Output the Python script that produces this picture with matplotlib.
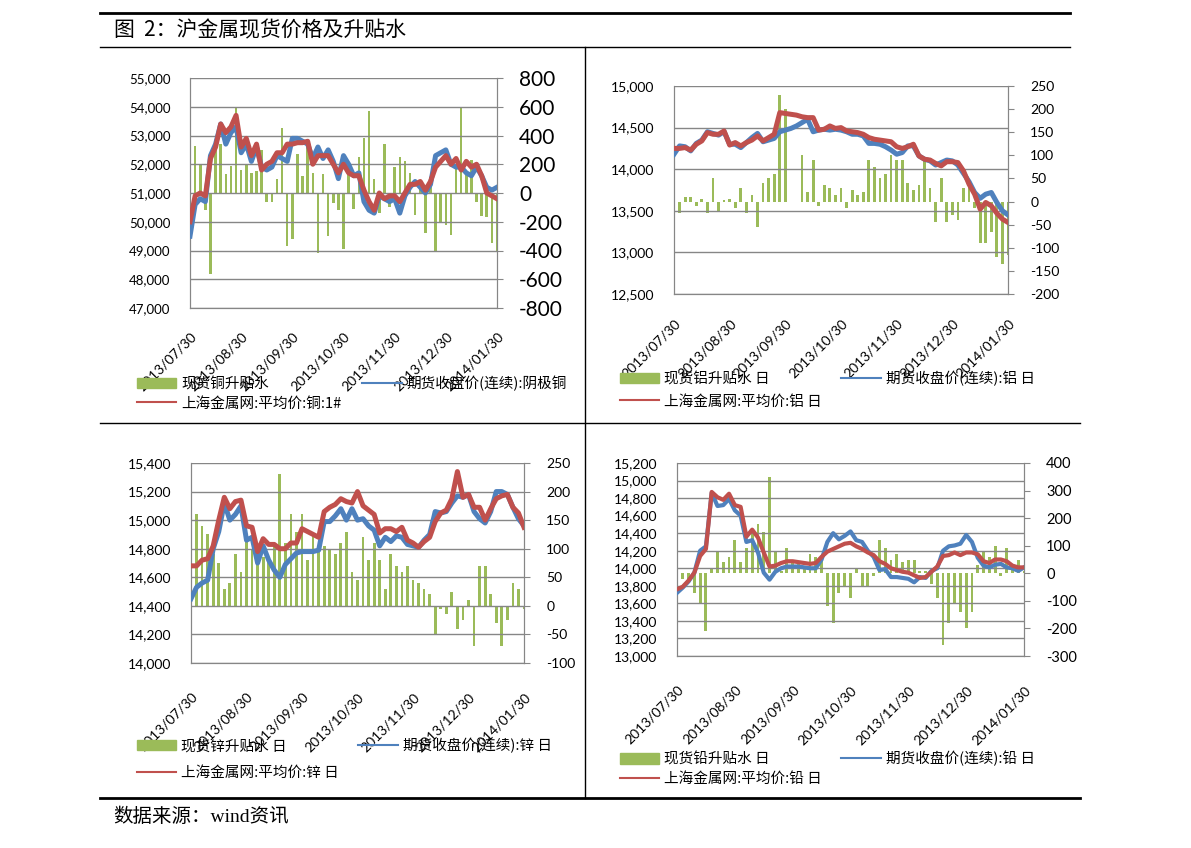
import numpy as np
import matplotlib.pyplot as plt
from matplotlib.lines import Line2D
from matplotlib.patches import Patch

plt.rcParams['font.family'] = ['Lato', 'Noto Sans CJK SC', 'DejaVu Sans']

dates = ["2013/07/30", "2013/08/30", "2013/09/30", "2013/10/30",
         "2013/11/30", "2013/12/30", "2014/01/30"]

# copper
cu_fut = [49500, 50600, 50800, 50700, 52300, 52700, 53400, 52700, 53100, 53300,
          52400, 52700, 52100, 52600, 51900, 51800, 51900, 52300, 52200, 52100,
          52900, 52900, 52800, 52700, 52200, 52600, 52200, 52500, 52100, 51500,
          52300, 52000, 51600, 51700, 50700, 50400, 50300, 50900, 50800, 50700,
          50800, 50300, 50900, 51200, 51400, 51200, 51000, 51300, 52300, 52400,
          52500, 52000, 51900, 51900, 51700, 51600, 51900, 51600, 51200, 51100, 51200]
cu_spot = [50000, 50900, 51000, 50900, 52200, 52600, 53400, 53100, 53300, 53700,
           52600, 52900, 52300, 52700, 51800, 52000, 52100, 52400, 52400, 52700,
           52700, 52750, 52750, 52800, 52000, 52300, 52300, 52300, 52000, 51700,
           52000, 51700, 51600, 51600, 51100, 50700, 50400, 51000, 50800, 50900,
           50900, 50700, 51000, 51300, 51300, 51400, 51100, 51400, 51900, 52100,
           52300, 52000, 52200, 51800, 52100, 51900, 52000, 51600, 51000, 50900, 50800]
cu_prem = [480, 330, 200, -120, -560, 330, 340, 130, 190, 590,
           160, 200, 140, 150, 300, -60, -60, 100, 450, -370,
           -320, 270, 120, 360, 140, -420, 130, -300, -70, -120,
           -390, 170, -110, 250, 380, 570, 100, -140, 340, -100,
           180, 250, 220, 140, -150, 80, -280, 110, -400, -210,
           -220, -290, 200, 600, 150, 230, -60, -160, -170, -350, -410]

# aluminium
al_fut = [14180, 14280, 14270, 14220, 14310, 14350, 14450, 14430, 14410, 14450,
          14300, 14300, 14260, 14320, 14380, 14430, 14330, 14350, 14370, 14450,
          14470, 14490, 14520, 14560, 14600, 14450, 14470, 14480, 14470, 14480,
          14470, 14450, 14420, 14420, 14400, 14310, 14310, 14300, 14270, 14230,
          14180, 14200, 14280, 14280, 14160, 14120, 14100, 14050, 14080, 14110,
          14100, 14050, 13950, 13850, 13720, 13650, 13700, 13720, 13600, 13500, 13450]
al_spot = [14250, 14250, 14260, 14230, 14300, 14340, 14440, 14420, 14420, 14460,
           14290, 14320, 14280, 14320, 14350, 14400, 14340, 14380, 14420, 14680,
           14670, 14660, 14650, 14630, 14620, 14620, 14470, 14480, 14520, 14490,
           14500, 14460, 14450, 14440, 14420, 14380, 14360, 14350, 14340, 14330,
           14270, 14250, 14270, 14300, 14160, 14120, 14110, 14070, 14040, 14090,
           14090, 14080, 13980, 13820, 13700, 13520, 13600, 13560, 13470, 13400, 13360]
al_prem = [60, -25, 10, 10, -10, 5, -25, 50, -20, 3,
           5, -15, 30, -25, 15, -55, 40, 50, 60, 230,
           200, 0, 0, 100, 20, 90, -10, 35, 30, 15,
           30, -15, 25, 15, 20, 90, 75, 50, 60, 100,
           90, 90, 40, 25, 35, 90, 30, -45, 50, -45,
           -30, -40, 30, 35, -15, -90, -90, -65, -120, -135, -115]

# zinc
zn_fut = [14450, 14530, 14560, 14580, 14800, 14920, 15120, 15000, 15040, 15100,
          14860, 14880, 14700, 14820, 14720, 14650, 14600, 14690, 14730, 14770,
          14780, 14780, 14780, 14790, 14990, 14990, 15030, 15080, 15000, 15080,
          15000, 15010, 14960, 14930, 14820, 14880, 14850, 14890, 14880, 14830,
          14820, 14810, 14860, 14900, 15060, 15050, 15060, 15120, 15170, 15160,
          15180, 15060, 15010, 14980, 15060, 15200, 15200, 15180, 15090, 15010, 14960]
zn_spot = [14680, 14680, 14720, 14730, 14820, 15000, 15160, 15080, 15130, 15140,
           14960, 14950, 14780, 14870, 14830, 14830, 14800, 14800, 14840, 14840,
           14940, 14920, 14900, 14880, 15060, 15090, 15110, 15150, 15130, 15120,
           15200, 15100, 15070, 15040, 14910, 14940, 14940, 14920, 14950, 14860,
           14840, 14810, 14850, 14880, 14990, 15050, 15070, 15150, 15340, 15160,
           15180, 15090, 15090, 15000, 15080, 15150, 15170, 15180, 15090, 15050, 14950]
zn_prem = [220, 160, 140, 125, 90, 75, 30, 40, 90, 60,
           120, 100, 75, 85, 80, 110, 230, 110, 160, 130,
           160, 80, 130, 100, 105, 100, 90, 110, 130, 60,
           45, 120, 80, 110, 80, 30, 90, 70, 60, 70,
           45, 40, 30, 20, -50, -5, -15, 25, -40, -25,
           10, -70, 70, 70, 20, -30, -70, -25, 40, 30, -5]

# lead
pb_fut = [13720, 13780, 13850, 13950, 14200, 14250, 14860, 14710, 14720, 14790,
          14660, 14600, 14300, 14320, 14180, 13950, 13870, 13960, 14000, 14020,
          14020, 14020, 14010, 14000, 14000, 14100, 14300, 14400, 14330, 14370,
          14420, 14320, 14300, 14200, 14130, 13980, 13990, 13900, 13900, 13890,
          13880, 13840, 13900, 13890, 13970, 14000, 14200, 14250, 14260, 14280,
          14380, 14300, 14120, 14030, 14010, 14040, 14050, 14010, 14000, 13970, 14010]
pb_spot = [13760, 13790, 13860, 13950, 14140, 14220, 14870, 14810, 14780, 14850,
           14720, 14700, 14360, 14440, 14350, 14180, 14020, 14030, 14060, 14080,
           14080, 14070, 14060, 14050, 14060, 14130, 14190, 14220, 14250, 14280,
           14290, 14250, 14220, 14180, 14150, 14080, 14050, 14000, 13980, 13960,
           13950, 13920, 13890, 13900, 13960, 14020, 14140, 14150, 14180, 14150,
           14180, 14180, 14160, 14080, 14060, 14100, 14100, 14080, 14030, 14010, 14010]
pb_prem = [70, -20, -20, -70, -110, -210, 20, 80, 40, 60,
           120, 40, 90, 160, 180, 150, 350, 80, 10, 90,
           50, 40, 20, 70, 60, 50, -120, -180, -70, -50,
           -90, 20, -50, -50, -10, 120, 90, 50, 70, 40,
           50, 50, 10, 10, -40, -90, -260, -180, -110, -140,
           -200, -140, 30, 80, 60, 100, -10, 90, 30, 50, 10]

GREEN = '#9BBB59'
BLUE = '#4F81BD'
RED = '#C0504D'
GRID = '#868686'

W, H = 1191, 848
fig = plt.figure(figsize=(W / 100, H / 100), dpi=100)


def rect(x0, y0, x1, y1):
    return [x0 / W, 1 - y1 / H, (x1 - x0) / W, (y1 - y0) / H]


def panel(box, fut, spot, prem, lticks, rticks, lfmt, rsize, lsize, lw, xpad):
    axb = fig.add_axes(rect(*box))
    axl = axb.twinx()
    axb.set_zorder(1)
    axl.set_zorder(2)
    axl.patch.set_visible(False)
    x = np.arange(len(fut))
    axb.bar(x, prem, width=0.5, color=GREEN, linewidth=0)
    axl.plot(x, fut, color=BLUE, lw=lw, solid_joinstyle='round', zorder=3)
    axl.plot(x, spot, color=RED, lw=lw, solid_joinstyle='round', zorder=4)
    axb.set_xlim(0, len(fut) - 1)
    axb.set_ylim(rticks[0], rticks[-1])
    axl.set_ylim(lticks[0], lticks[-1])
    axb.yaxis.tick_right()
    axl.yaxis.tick_left()
    axb.set_yticks(rticks)
    axb.set_yticklabels([str(v) for v in rticks], fontsize=rsize)
    axl.set_yticks(lticks)
    axl.set_yticklabels([lfmt(v) for v in lticks], fontsize=lsize)
    axl.grid(axis='y', color=GRID, lw=1)
    axl.set_axisbelow(True)
    axb.set_xticks(np.arange(0, len(fut), 10))
    axb.set_xticklabels(dates, rotation=45, ha='right', rotation_mode='anchor',
                        fontsize=10)
    axb.tick_params(axis='x', length=0, pad=xpad)
    axb.tick_params(axis='y', length=4, color=GRID, pad=12)
    axl.tick_params(axis='y', length=0, pad=14)
    for a in (axb, axl):
        for s in a.spines.values():
            s.set_color(GRID)
        a.spines['top'].set_visible(False)
    axl.tick_params(axis='x', length=0)
    return axb


def legend(labels, x, y, spacing, colspace):
    h = [Patch(color=GREEN), Line2D([], [], color=RED, lw=1.5),
         Line2D([], [], color=BLUE, lw=1.5)]
    fig.legend(h, [labels[0], labels[2], labels[1]], loc='upper left',
               bbox_to_anchor=(x / W, 1 - y / H), ncol=2, frameon=False,
               prop={'family': ['Noto Sans CJK SC'], 'size': 10.5},
               handlelength=2.7, handleheight=0.7, handletextpad=0.35,
               labelspacing=spacing, columnspacing=colspace,
               borderpad=0, borderaxespad=0)


comma = lambda v: f"{v:,}"

panel((190, 78, 497, 308), cu_fut, cu_spot, cu_prem,
      list(range(47000, 55001, 1000)), list(range(-800, 801, 200)),
      comma, 15, 9.5, 3.6, 16)
legend(["现货铜升贴水", "期货收盘价(连续):阴极铜", "上海金属网:平均价:铜:1#"],
       137, 376, 0.35, 1.4)

panel((674, 86, 1008, 294), al_fut, al_spot, al_prem,
      list(range(12500, 15001, 500)), list(range(-200, 251, 50)),
      comma, 10, 10, 3.6, 17)
legend(["现货铝升贴水 日", "期货收盘价(连续):铝 日", "上海金属网:平均价:铝 日"],
       620, 371, 0.55, 1.3)

panel((191, 463, 524, 663), zn_fut, zn_spot, zn_prem,
      list(range(14000, 15401, 200)), list(range(-100, 251, 50)),
      comma, 10, 10, 3.6, 20)
legend(["现货锌升贴水 日", "期货收盘价(连续):锌 日", "上海金属网:平均价:锌 日"],
       137, 738, 0.9, 1.3)

panel((677, 463, 1024, 656), pb_fut, pb_spot, pb_prem,
      list(range(13000, 15201, 200)), list(range(-300, 401, 100)),
      comma, 10.5, 10, 3.0, 20)
legend(["现货铅升贴水 日", "期货收盘价(连续):铅 日", "上海金属网:平均价:铅 日"],
       620, 751, 0.35, 1.3)


# page frame
def hline(y, x0, x1, lw):
    fig.add_artist(Line2D([x0 / W, x1 / W], [1 - y / H, 1 - y / H],
                          color='black', lw=lw))


hline(13, 100, 1070, 2)
hline(47, 100, 1070, 1)
hline(423, 100, 1080, 1)
hline(798, 100, 1080, 2)
fig.add_artist(Line2D([585 / W, 585 / W], [1 - 47 / H, 1 - 798 / H],
                      color='black', lw=1))

fig.text(114 / W, 1 - 30 / H, "图  2：沪金属现货价格及升贴水", fontsize=15,
         family=['Noto Sans CJK SC'], va='center', ha='left')
fig.text(113 / W, 1 - 817 / H, "数据来源：wind资讯", fontsize=14,
         family=['Liberation Serif', 'Noto Sans CJK SC'], va='center', ha='left')

fig.savefig('out.png', dpi=100)
